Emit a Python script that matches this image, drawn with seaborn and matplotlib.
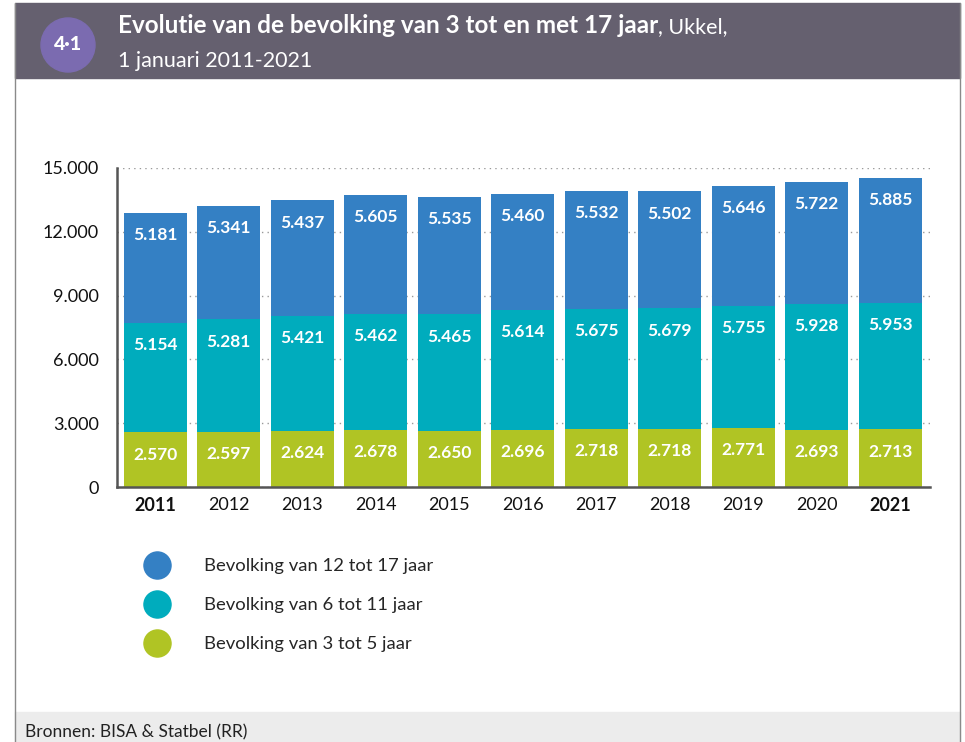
import matplotlib
matplotlib.use("Agg")
import matplotlib.pyplot as plt
import seaborn as sns
import pandas as pd
from matplotlib.lines import Line2D
from matplotlib.patches import Rectangle, Ellipse

# data
years = ["2011", "2012", "2013", "2014", "2015", "2016", "2017", "2018", "2019", "2020", "2021"]
age_3_5 = [2570, 2597, 2624, 2678, 2650, 2696, 2718, 2718, 2771, 2693, 2713]
age_6_11 = [5154, 5281, 5421, 5462, 5465, 5614, 5675, 5679, 5755, 5928, 5953]
age_12_17 = [5181, 5341, 5437, 5605, 5535, 5460, 5532, 5502, 5646, 5722, 5885]
series_labels = ["Bevolking van 12 tot 17 jaar", "Bevolking van 6 tot 11 jaar", "Bevolking van 3 tot 5 jaar"]
bold_years = ["2011", "2021"]

c_green = "#b0c424"
c_teal = "#00acbd"
c_blue = "#3480c4"
header_col = "#65606f"
badge_col = "#7b6bb0"

sns.set_theme(style="white")
plt.rcParams['font.family'] = ['Lato', 'DejaVu Sans']

W, H = 965, 742
fig = plt.figure(figsize=(W / 100, H / 100), dpi=100)


def fx(px):
    return px / W


def fy(py):
    return 1 - py / H


# frame, header and footer
fig.patches.append(Rectangle((fx(15), fy(78)), fx(945), 75 / H, transform=fig.transFigure,
                             color=header_col, zorder=0))
fig.patches.append(Rectangle((fx(15), 0), fx(945), 30 / H, transform=fig.transFigure,
                             color="#ececec", zorder=0))
fig.lines.append(Line2D([fx(15), fx(15)], [0, fy(3)], transform=fig.transFigure, color="#8a8a8a", lw=1))
fig.lines.append(Line2D([fx(960), fx(960)], [0, fy(3)], transform=fig.transFigure, color="#8a8a8a", lw=1))
fig.patches.append(Ellipse((fx(68), fy(45)), 54 / W, 54 / H, transform=fig.transFigure,
                           color=badge_col, zorder=1))
fig.text(fx(68), fy(45), "4·1", color="white", fontsize=14, fontweight="black", ha="center", va="center")

t1 = fig.text(fx(118), fy(33), "Evolutie van de bevolking van 3 tot en met 17 jaar", color="white",
              fontsize=17.5, fontweight="bold", ha="left", va="baseline")
fig.canvas.draw()
bb = t1.get_window_extent()
fig.text(bb.x1 / W, fy(33), ", Ukkel,", color="white", fontsize=15.5, ha="left", va="baseline")
fig.text(fx(118), fy(67), "1 januari 2011-2021", color="white", fontsize=15.5, ha="left", va="baseline")

fig.text(fx(25), fy(732), "Bronnen: BISA & Statbel (RR)", color="#222222", fontsize=12.5,
         ha="left", va="center")

# chart
ax = fig.add_axes([fx(117), fy(487), fx(930 - 117), 319 / H])

df = pd.DataFrame({"year": years, "a": age_3_5, "b": age_6_11, "c": age_12_17})
df["top_b"] = df["a"] + df["b"]
df["top_c"] = df["top_b"] + df["c"]

for col, color in [("top_c", c_blue), ("top_b", c_teal), ("a", c_green)]:
    sns.barplot(data=df, x="year", y=col, color=color, saturation=1, width=0.86,
                linewidth=0, ax=ax)

for i in range(len(years)):
    for val, top in [(df["a"][i], df["a"][i]), (df["b"][i], df["top_b"][i]), (df["c"][i], df["top_c"][i])]:
        ax.annotate(f"{val:,}".replace(",", "."), xy=(i, top), xytext=(0, -16),
                    textcoords="offset points", ha="center", va="center", color="white",
                    fontsize=12.5, fontweight="bold")

ax.set_ylim(0, 15000)
ax.set_xlim(-0.52, 10.54)
ax.set_yticks(range(0, 15001, 3000))
ax.set_yticklabels([f"{v:,}".replace(",", ".") for v in range(0, 15001, 3000)])
ax.yaxis.grid(True, linestyle=(0, (1, 3)), color="#9a9a9a", linewidth=1)
ax.xaxis.grid(False)
ax.set_axisbelow(True)
ax.set_xlabel("")
ax.set_ylabel("")
for s in ["top", "right"]:
    ax.spines[s].set_visible(False)
for s in ["left", "bottom"]:
    ax.spines[s].set_color("#555555")
    ax.spines[s].set_linewidth(1.8)
ax.tick_params(axis="both", length=0, labelsize=13, colors="#111111")
ax.tick_params(axis="y", pad=13)
ax.tick_params(axis="x", pad=7)
for lab in ax.get_xticklabels():
    if lab.get_text() in bold_years:
        lab.set_fontweight("bold")

handles = [Line2D([], [], marker="o", linestyle="", markersize=19.5, color=c)
           for c in [c_blue, c_teal, c_green]]
fig.legend(handles, series_labels, loc="upper left", bbox_to_anchor=(fx(131.5), fy(551)),
           frameon=False, fontsize=13.3, handlelength=2, handletextpad=1.5, labelspacing=1.24,
           borderaxespad=0)

fig.savefig("out.png", dpi=100)
